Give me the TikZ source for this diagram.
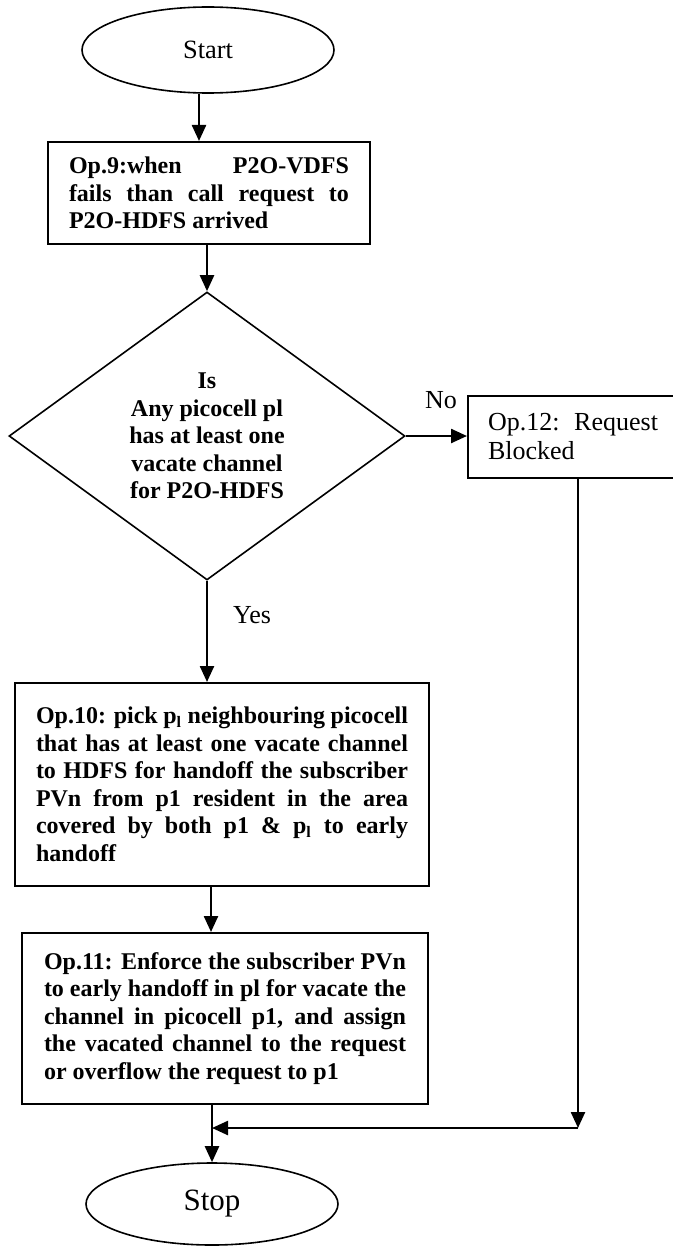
\documentclass[tikz,border=0pt]{standalone}
\usepackage{fontspec}
\setmainfont{Liberation Serif}
\usetikzlibrary{arrows.meta,positioning,shapes.geometric,calc}
\tikzset{
  >={Triangle[length=8pt,width=7pt]},
  term/.style={draw,ellipse,line width=0.8pt,minimum width=126pt,minimum height=43pt,inner sep=0pt,font=\fontsize{13.2}{15}\selectfont},
  opbox/.style={draw,rectangle,line width=1pt,inner xsep=10.5pt,inner ysep=0pt,align=justify,font=\bfseries\fontsize{12}{13.75}\selectfont},
  decide/.style={draw,diamond,line width=0.8pt,minimum width=198pt,minimum height=144pt,inner sep=0pt,align=center,font=\bfseries\fontsize{12}{13.75}\selectfont},
  ptr/.style={->,line width=1.2pt},
  note/.style={font=\fontsize{13}{15}\selectfont,inner sep=0pt},
}

\begin{document}
\begin{tikzpicture}[x=0.5pt,y=-0.5pt]
  \useasboundingbox (0,0) rectangle (673,1247);
  \node[term] (start) at (208,50) {Start};
  \node[opbox,text width=140pt,minimum width=161pt,minimum height=51pt] (op9) at (209,193)
    {Op.9:when\hfill P2O-VDFS\linebreak fails than call request to\linebreak P2O-HDFS arrived};
  \node[decide] (dia) at (207,436) {Is\\Any picocell pl\\has at least one\\vacate channel\\for P2O-HDFS};
  \node[opbox,anchor=west,font=\fontsize{13}{14.5}\selectfont,align=left,inner xsep=10pt,text width=85pt,minimum height=41pt] (op12) at (467,437)
    {Op.12:\hfill Request\\Blocked};
  \node[opbox,text width=186pt,minimum width=207pt,minimum height=101.5pt] (op10) at (222,784.5)
    {Op.10: pick p\textsubscript{l} neighbouring picocell\linebreak that has at least one vacate channel\linebreak to HDFS for handoff the subscriber\linebreak PVn from p1 resident in the area\linebreak covered by both p1 \& p\textsubscript{l} to early\linebreak handoff};
  \node[opbox,text width=181pt,minimum width=203pt,minimum height=85.5pt] (op11) at (225,1018.5)
    {Op.11: Enforce the subscriber PVn\linebreak to early handoff in pl for vacate the\linebreak channel in picocell p1, and assign\linebreak the vacated channel to the request\linebreak or overflow the request to p1};
  \node[term,minimum height=41pt,font=\fontsize{15.5}{17}\selectfont] (stop) at (212,1204) {Stop};
  \node[note] (no) at (441,400) {No};
  \node[note] (yes) at (252,615) {Yes};
  \coordinate (merge) at (578,1128);

  \draw[ptr] ([xshift=-4.5pt]start.south) -- ([xshift=-4.5pt]start.south |- op9.north);
  \draw[ptr] (dia.north |- op9.south) -- (dia.north);
  \draw[ptr] (dia.east) -- (dia.east -| op12.west);
  \draw[ptr] (dia.south) -- (dia.south |- op10.north);
  \draw[ptr] ([xshift=-5.5pt]op10.south) -- ([xshift=-5.5pt]op10.south |- op11.north);
  \draw[ptr] (stop.north |- op11.south) -- (stop.north);
  \draw[ptr] (merge |- op12.south) -- (merge);
  \draw[ptr] (merge) -- (stop.north |- merge);
\end{tikzpicture}
\end{document}
